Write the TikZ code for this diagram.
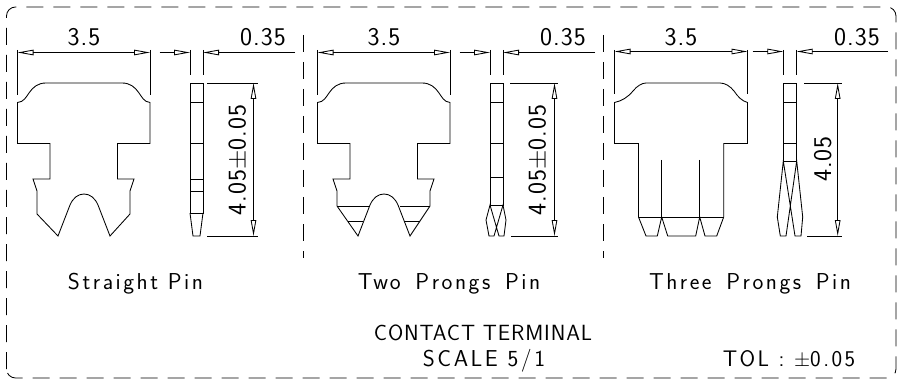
\documentclass[tikz,border=0pt]{standalone}
\usepackage{fontspec}
\newfontfamily\cadfont[LetterSpace=4]{Latin Modern Sans}
\newfontfamily\capfont[LetterSpace=11]{Latin Modern Sans}
\usetikzlibrary{arrows.meta}

\tikzset{
    part/.style={line width=0.85pt, line join=miter},
    dimline/.style={line width=0.85pt, {Triangle[open,length=16pt,width=5.5pt]}-{Triangle[open,length=16pt,width=5.5pt]}},
    leftdim/.style={line width=0.85pt, -{Triangle[open,length=16pt,width=5.5pt]}},
    extline/.style={line width=0.85pt},
    sepline/.style={line width=0.85pt, dash pattern=on 17pt off 10pt},
    dimtext/.style={font=\cadfont\fontsize{25.5}{25.5}\selectfont, inner sep=0pt},
    captext/.style={font=\capfont\fontsize{23}{23}\selectfont, inner sep=0pt},
    titletext/.style={font=\cadfont\fontsize{22}{22}\selectfont, inner sep=0pt},
    toltext/.style={font=\capfont\fontsize{22.5}{22.5}\selectfont, inner sep=0pt}
}

\begin{document}
\begin{tikzpicture}[x=1pt,y=-1pt]
    \useasboundingbox (0,0) rectangle (899,382);
    \draw[sepline, rounded corners=9pt] (6.5,378) rectangle (896,7);
    \draw[sepline] (303,35) -- (303,258);
    \draw[sepline] (603,35) -- (603,258);

    % straight pin and two prongs pin share the same head and body
    \foreach \dx/\cy in {0/214,300/206} {
        \begin{scope}[xshift=\dx pt]
            \draw[part] (17.5,102.5) .. controls (24,102) and (26,97) .. (29,93)
                .. controls (33,87) and (38,83) .. (46,83) -- (122,83)
                .. controls (130,83) and (135,87) .. (139,93)
                .. controls (142,97) and (144,102) .. (150,102.5)
                -- (150,143.5) -- (117.5,143.5) -- (117.5,179) -- (134,179)
                -- (130,191) -- (130,\cy) -- (110,236) -- (98,205)
                .. controls (95,198) and (90,194) .. (84,194)
                .. controls (78,194) and (73,198) .. (70,205)
                -- (58,236) -- (37,\cy) -- (37,191) -- (33,179) -- (50,179)
                -- (50,143.5) -- (17.5,143.5) -- cycle;
            \draw[extline] (17.5,50) -- (17.5,95);
            \draw[extline] (150,50) -- (150,95);
            \draw[dimline] (17.5,52.5) -- (150,52.5);
            \draw[extline] (190,50) -- (190,75);
            \draw[extline] (203,50) -- (203,75);
            \draw[leftdim] (159.5,52.5) -- (190,52.5);
            \draw[leftdim] (295,52.5) -- (203,52.5);
            \node[dimtext] (width\dx) at (84,37.5) {3.5};
            \node[dimtext] (thick\dx) at (263,37.5) {0.35};
            \node[dimtext, rotate=90] (len\dx) at (238,160) {4.05$\pm$0.05};
        \end{scope}
    }

    % straight pin side view
    \draw[part] (190,83) rectangle (203,213);
    \draw[part] (190,213) -- (193,236) -- (200,236) -- (203,213);
    \foreach \ys in {102,143.5,179,191} {
        \draw[part] (190,\ys) -- (203,\ys);
    }
    \draw[extline] (207,83) -- (258,83);
    \draw[extline] (207,236) -- (258,236);
    \draw[dimline] (253.5,83) -- (253.5,236);

    % two prongs pin
    \draw[part] (337,206) -- (369,206);
    \draw[part] (400,206) -- (430,206);
    \draw[part] (348,221) -- (363,221);
    \draw[part] (405,221) -- (420,221);
    \draw[part] (490,83) rectangle (503,205);
    \foreach \ys in {102,143.5,177.5} {
        \draw[part] (490,\ys) -- (503,\ys);
    }
    \draw[part] (490,205) -- (486,220) -- (489,236) -- (494,236) -- (503,205)
        -- (506,220) -- (504,236) -- (499,236) -- cycle;
    \draw[extline] (510,83) -- (558,83);
    \draw[extline] (511,236) -- (558,236);
    \draw[dimline] (554.5,83) -- (554.5,236);

    % three prongs pin
    \draw[part] (614.5,102.5) .. controls (622,101) and (628,97) .. (633,91)
        .. controls (637,86) and (642,83) .. (646,83) -- (720,83)
        .. controls (725,83) and (730,86) .. (734,91)
        .. controls (738,97) and (742,101) .. (747.5,102.5)
        -- (747.5,143.5) -- (723.7,143.5) -- (723.7,217) -- (716.7,236) -- (705,236)
        -- (699.7,217) -- (695.7,236) -- (667.7,236) -- (661.7,217) -- (657.3,236)
        -- (646,236) -- (638.5,217) -- (638.5,143.5) -- (614.5,143.5) -- cycle;
    \draw[part] (638.5,217) -- (723.7,217);
    \draw[part] (661.7,160) -- (661.7,217);
    \draw[part] (699.7,160) -- (699.7,217);
    \draw[extline] (614.5,50) -- (614.5,94);
    \draw[extline] (747.5,50) -- (747.5,94);
    \draw[dimline] (614.5,51.5) -- (747.5,51.5);
    \draw[extline] (783.3,50) -- (783.3,75);
    \draw[extline] (796.7,50) -- (796.7,75);
    \draw[leftdim] (752.7,51.5) -- (783.3,51.5);
    \draw[leftdim] (888,51.5) -- (796.7,51.5);
    \draw[part] (783.3,83) rectangle (796.7,161);
    \foreach \ys in {102,143.5} {
        \draw[part] (783.3,\ys) -- (796.7,\ys);
    }
    \draw[part] (783.3,161) -- (777.3,217) -- (780.3,236) -- (786,236) -- (796.7,161)
        -- (802.7,217) -- (801,236) -- (795,236) -- cycle;
    \draw[extline] (804,83) -- (842,83);
    \draw[extline] (807,236) -- (842,236);
    \draw[dimline] (837.7,83) -- (837.7,236);
    \node[dimtext] (width3) at (681,37) {3.5};
    \node[dimtext] (thick3) at (857,37) {0.35};
    \node[dimtext, rotate=90] (len3) at (822.7,159) {4.05};

    \node[captext] (straight) at (135.5,284) {Straight Pin};
    \node[captext] (twoprongs) at (449,284) {Two\hspace{5pt} Prongs\hspace{5pt} Pin};
    \node[captext] (threeprongs) at (750,284) {Three\hspace{5pt} Prongs\hspace{5pt} Pin};
    \node[titletext] (contact) at (483,333) {CONTACT TERMINAL};
    \node[captext] (scale) at (484,361) {SCALE 5/1};
    \node[toltext] (tol) at (789,359) {TOL : $\pm$0.05};
\end{tikzpicture}
\end{document}
